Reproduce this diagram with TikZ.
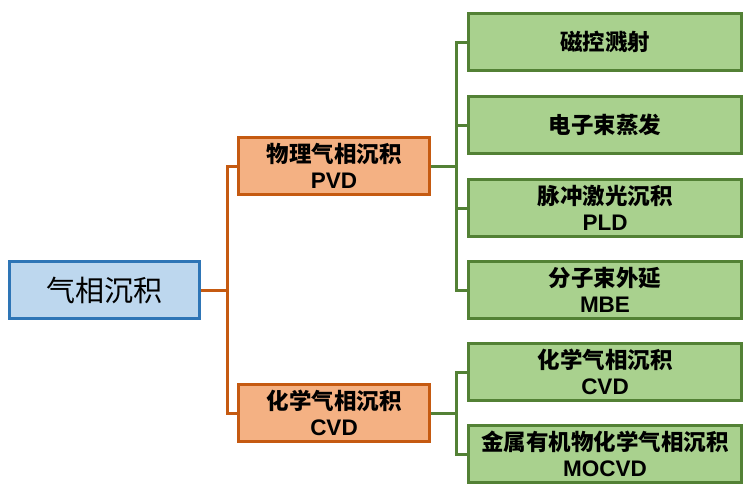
\documentclass[tikz,border=0pt]{standalone}
\usepackage{fontspec}
\setmainfont{Liberation Sans}
\newfontfamily\cjk{Noto Sans CJK SC}
\definecolor{bfill}{HTML}{BDD7EE}
\definecolor{bdraw}{HTML}{2E75B6}
\definecolor{ofill}{HTML}{F4B183}
\definecolor{odraw}{HTML}{C55A11}
\definecolor{gfill}{HTML}{A9D18E}
\definecolor{gdraw}{HTML}{538135}
\begin{document}
\begin{tikzpicture}[x=1pt,y=-1pt,
  rootbox/.style={draw=bdraw,fill=bfill,line width=3pt,minimum width=190pt,minimum height=57pt,inner sep=0pt,font=\fontsize{29}{34}\selectfont\cjk},
  midbox/.style={draw=odraw,fill=ofill,line width=3pt,minimum width=191pt,minimum height=57pt,inner sep=0pt,align=center,font=\fontsize{22.5}{26.5}\selectfont\bfseries},
  leafbox/.style={draw=gdraw,fill=gfill,line width=3pt,minimum width=273pt,minimum height=57pt,inner sep=0pt,align=center,font=\fontsize{22.5}{26.5}\selectfont\bfseries},
  oline/.style={draw=odraw,line width=3pt},
  gline/.style={draw=gdraw,line width=3pt}]
\useasboundingbox (0,0) rectangle (750,493);
\node[rootbox] (root) at (104.5,290) {气相沉积};
\node[midbox] (pvd) at (334,166) {{\cjk 物理气相沉积}\\PVD};
\node[midbox] (cvd) at (334,413) {{\cjk 化学气相沉积}\\CVD};
\node[leafbox] (g1) at (605,42) {\cjk 磁控溅射};
\node[leafbox] (g2) at (605,125) {\cjk 电子束蒸发};
\node[leafbox] (g3) at (605,208) {{\cjk 脉冲激光沉积}\\PLD};
\node[leafbox] (g4) at (605,290) {{\cjk 分子束外延}\\MBE};
\node[leafbox] (g5) at (605,372) {{\cjk 化学气相沉积}\\CVD};
\node[leafbox] (g6) at (605,454) {{\cjk 金属有机物化学气相沉积}\\MOCVD};
\coordinate (ob) at (227,290);
\coordinate (gb) at (456,166);
\coordinate (gc) at (456,413);
\draw[oline] (root.east) -- (ob);
\draw[oline] (pvd.west) -| (ob);
\draw[oline] (cvd.west) -| (ob);
\draw[gline] (pvd.east) -- (gb);
\foreach \n in {g1,g2,g3,g4} \draw[gline] (\n.west) -| (gb);
\draw[gline] (cvd.east) -- (gc);
\foreach \n in {g5,g6} \draw[gline] (\n.west) -| (gc);
\end{tikzpicture}
\end{document}
